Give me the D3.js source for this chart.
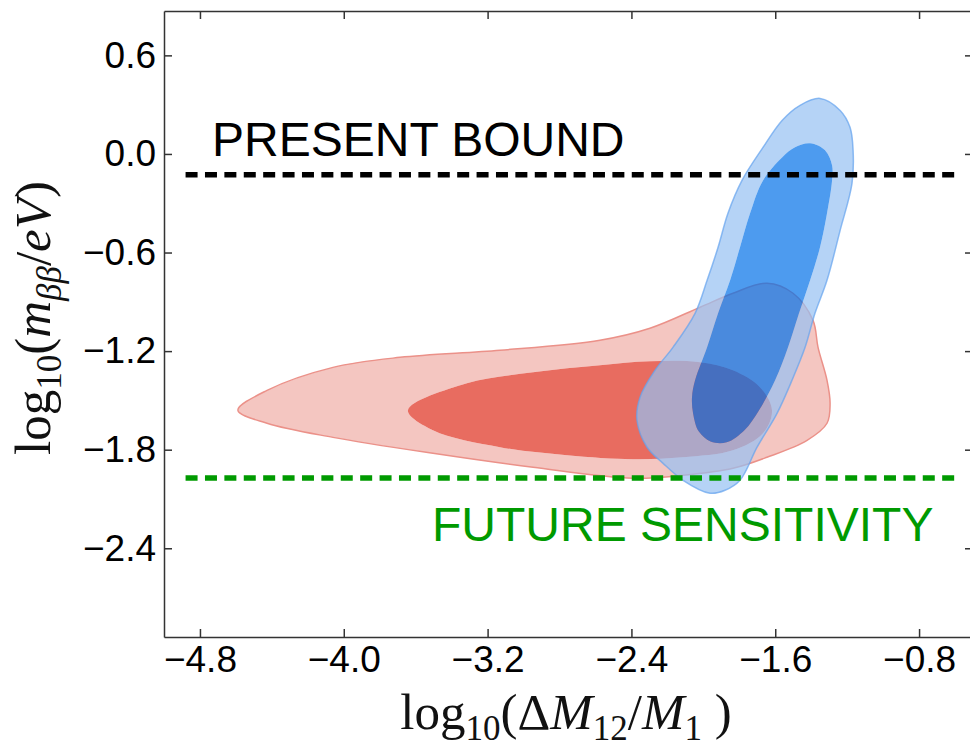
<!DOCTYPE html>
<html>
<head>
<meta charset="utf-8">
<script src="https://cdn.jsdelivr.net/npm/d3@7"></script>
<style>
  body { margin: 0; background: #fff; }
  svg { display: block; }
  .tick text { font-family: "Liberation Sans", Arial, sans-serif; font-size: 37px; fill: #000; }
  .tick line, .domain { stroke: #333; stroke-width: 1.5px; }
  .lbl { font-family: "Liberation Serif", "DejaVu Serif", serif; font-size: 51px; fill: #111; }
</style>
</head>
<body>
<script>
const width = 970;
const height = 747;

// axis ticks
const xTicks = [-4.8, -4.0, -3.2, -2.4, -1.6, -0.8];
const yTicks = [0.6, 0.0, -0.6, -1.2, -1.8, -2.4];

// reference lines (log10 m_bb)
const presentBound = -0.127;
const futureSensitivity = -1.972;

// contour outlines [log10(dM/M1), log10(m_bb/eV)]
const redOuter = [
  [-4.589, -1.560], [-4.427, -1.439], [-4.060, -1.299], [-3.687, -1.238], [-3.131, -1.195],
  [-2.575, -1.134], [-2.297, -1.061], [-2.018, -0.933], [-1.835, -0.848], [-1.646, -0.787],
  [-1.501, -0.848], [-1.390, -1.013], [-1.362, -1.177], [-1.312, -1.378], [-1.295, -1.518],
  [-1.312, -1.639], [-1.423, -1.743], [-1.646, -1.846], [-1.835, -1.913], [-2.113, -1.956],
  [-2.391, -1.974], [-2.947, -1.907], [-3.504, -1.822], [-4.060, -1.725], [-4.427, -1.639]
];
const redInner = [
  [-3.643, -1.560], [-3.315, -1.396], [-2.947, -1.329], [-2.575, -1.286], [-2.297, -1.262],
  [-2.018, -1.268], [-1.835, -1.317], [-1.685, -1.420], [-1.618, -1.560], [-1.668, -1.700],
  [-1.835, -1.804], [-2.113, -1.846], [-2.391, -1.858], [-2.758, -1.834], [-3.131, -1.785],
  [-3.504, -1.682]
];
const blueOuter = [
  [-1.351, 0.338], [-1.239, 0.265], [-1.184, 0.162], [-1.167, 0.022], [-1.173, -0.179],
  [-1.239, -0.465], [-1.312, -0.769], [-1.379, -0.970], [-1.434, -1.177], [-1.507, -1.378],
  [-1.590, -1.579], [-1.701, -1.785], [-1.796, -1.986], [-1.879, -2.047], [-1.963, -2.065],
  [-2.113, -1.986], [-2.224, -1.883], [-2.313, -1.785], [-2.369, -1.621], [-2.352, -1.481],
  [-2.269, -1.317], [-2.169, -1.177], [-2.046, -0.970], [-1.979, -0.769], [-1.918, -0.568],
  [-1.863, -0.361], [-1.785, -0.161], [-1.668, 0.040], [-1.562, 0.204], [-1.462, 0.296]
];
const blueInner = [
  [-1.406, 0.065], [-1.323, 0.022], [-1.284, -0.069], [-1.284, -0.161], [-1.312, -0.361],
  [-1.351, -0.568], [-1.406, -0.769], [-1.468, -0.970], [-1.529, -1.177], [-1.601, -1.378],
  [-1.690, -1.560], [-1.770, -1.680], [-1.870, -1.755], [-1.960, -1.750], [-2.025, -1.690],
  [-2.057, -1.579], [-2.063, -1.481], [-2.046, -1.378], [-1.979, -1.177], [-1.918, -0.970],
  [-1.851, -0.769], [-1.796, -0.568], [-1.740, -0.361], [-1.668, -0.161], [-1.562, -0.021],
  [-1.490, 0.040]
];

const x = d3.scaleLinear().domain([-5.0, -0.5]).range([164, 973]);
const y = d3.scaleLinear().domain([-2.94, 0.87]).range([637, 11]);

const svg = d3.select("body")
  .append("svg")
  .attr("width", width)
  .attr("height", height);

const line = d3.line()
  .x(d => x(d[0]))
  .y(d => y(d[1]))
  .curve(d3.curveCatmullRomClosed.alpha(0.5));

const plot = svg.append("g");

// contourf style: outer level is a ring, inner level fills the hole
function band(outer, inner, ringColor, coreColor, edgeColor, opacity) {
  plot.append("path")
    .attr("d", line(outer) + line(inner))
    .attr("fill", ringColor)
    .attr("fill-rule", "evenodd")
    .attr("opacity", opacity);
  plot.append("path")
    .attr("d", line(inner))
    .attr("fill", coreColor)
    .attr("opacity", opacity);
  plot.append("path")
    .attr("d", line(outer))
    .attr("fill", "none")
    .attr("stroke", edgeColor)
    .attr("stroke-width", 1.5)
    .attr("opacity", opacity);
}

band(redOuter, redInner, "#f4c6c1", "#e86c60", "#eb9189", 1);
band(blueOuter, blueInner, "rgb(149,192,242)", "rgb(2,112,232)", "rgb(100,162,238)", 0.7);

// reference lines
plot.append("line")
  .attr("x1", x(-4.88)).attr("x2", x(-0.6))
  .attr("y1", y(presentBound)).attr("y2", y(presentBound))
  .attr("stroke", "#000").attr("stroke-width", 5.5)
  .attr("stroke-dasharray", "12,7.4");

plot.append("line")
  .attr("x1", x(-4.88)).attr("x2", x(-0.6))
  .attr("y1", y(futureSensitivity)).attr("y2", y(futureSensitivity))
  .attr("stroke", "#009a00").attr("stroke-width", 5.5)
  .attr("stroke-dasharray", "12,7.4");

svg.append("text")
  .attr("x", x(-4.733)).attr("y", y(-0.015))
  .attr("font-family", "Liberation Sans, Arial, sans-serif")
  .attr("font-size", 48)
  .attr("fill", "#000")
  .text("PRESENT BOUND");

svg.append("text")
  .attr("x", x(-3.509)).attr("y", y(-2.357))
  .attr("font-family", "Liberation Sans, Arial, sans-serif")
  .attr("font-size", 48)
  .attr("fill", "#009a00")
  .text("FUTURE SENSITIVITY");

// axes with inward ticks on all four sides
const fmt = d3.format(".1f");

svg.append("g")
  .attr("transform", `translate(0,${y.range()[0]})`)
  .call(d3.axisBottom(x).tickValues(xTicks).tickFormat(fmt).tickSize(-8).tickSizeOuter(0).tickPadding(9));

svg.append("g")
  .attr("transform", `translate(0,${y.range()[1]})`)
  .call(d3.axisTop(x).tickValues(xTicks).tickFormat("").tickSize(-8).tickSizeOuter(0));

svg.append("g")
  .attr("transform", `translate(${x.range()[0]},0)`)
  .call(d3.axisLeft(y).tickValues(yTicks).tickFormat(fmt).tickSize(-8).tickSizeOuter(0).tickPadding(8));

svg.append("g")
  .attr("transform", `translate(${x.range()[1]},0)`)
  .call(d3.axisRight(y).tickValues(yTicks).tickFormat("").tickSize(-8).tickSizeOuter(0));

svg.selectAll(".tick line").attr("stroke", "#333");
svg.selectAll(".domain").attr("stroke", "#222");

// axis labels
const xl = svg.append("text")
  .attr("class", "lbl")
  .attr("x", 566).attr("y", 729)
  .attr("text-anchor", "middle");
xl.append("tspan").text("log");
xl.append("tspan").attr("font-size", 35).attr("dy", 11).text("10");
xl.append("tspan").attr("dy", -11).text("(Δ");
xl.append("tspan").attr("font-style", "italic").text("M");
xl.append("tspan").attr("font-size", 35).attr("dy", 11).text("12");
xl.append("tspan").attr("dy", -11).text("/");
xl.append("tspan").attr("font-style", "italic").text("M");
xl.append("tspan").attr("font-size", 35).attr("dy", 11).text("1");
xl.append("tspan").attr("dy", -11).text(" )");

const yl = svg.append("text")
  .attr("class", "lbl")
  .attr("transform", "translate(50,318) rotate(-90)")
  .attr("text-anchor", "middle");
yl.append("tspan").text("log");
yl.append("tspan").attr("font-size", 35).attr("dy", 11).text("10");
yl.append("tspan").attr("dy", -11).text("(");
yl.append("tspan").attr("font-style", "italic").text("m");
yl.append("tspan").attr("font-size", 35).attr("font-style", "italic").attr("dy", 11).text("ββ");
yl.append("tspan").attr("dy", -11).text("/");
yl.append("tspan").attr("font-style", "italic").text("eV");
yl.append("tspan").text(")");
</script>
</body>
</html>
